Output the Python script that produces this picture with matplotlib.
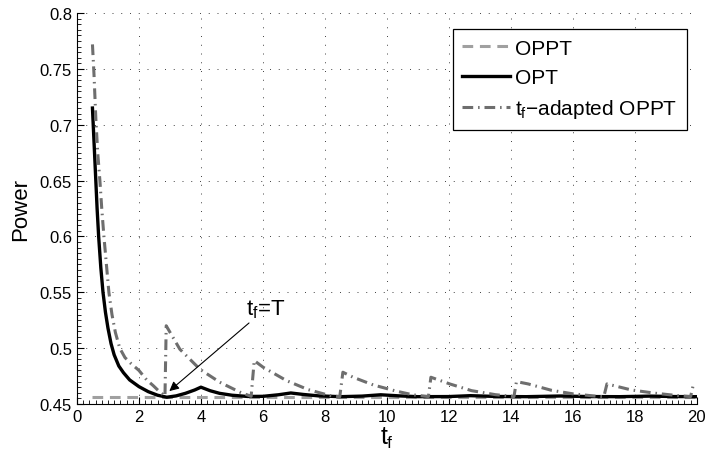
import numpy as np
import matplotlib
matplotlib.use('Agg')
import matplotlib.pyplot as plt
from matplotlib.ticker import MultipleLocator, AutoMinorLocator

plt.rcParams['font.family'] = 'Liberation Sans'
plt.rcParams['mathtext.fontset'] = 'custom'
plt.rcParams['mathtext.rm'] = 'Liberation Sans'
plt.rcParams['mathtext.it'] = 'Liberation Sans'

# OPPT: constant power
t_oppt = [0.5, 20.0]
p_oppt = [0.4562, 0.4562]

# OPT
t_opt = [0.5, 0.55, 0.6, 0.65, 0.7, 0.77, 0.84, 0.92, 1.0, 1.1, 1.2, 1.35, 1.5, 1.7,
         2.0, 2.3, 2.6, 2.9, 3.2, 3.5, 3.8, 4.0, 4.3, 4.6, 5.0, 5.5, 6.0, 6.5, 6.9,
         7.3, 7.8, 8.5, 9.2, 9.8, 10.4, 11.0, 12.0, 12.7, 13.5, 14.5, 15.6, 16.5,
         17.5, 18.5, 19.3, 20.0]
p_opt = [0.715, 0.685, 0.655, 0.625, 0.600, 0.572, 0.550, 0.532, 0.518, 0.504, 0.494,
         0.484, 0.478, 0.4715, 0.4655, 0.461, 0.4578, 0.456, 0.4572, 0.4595, 0.4625,
         0.465, 0.4618, 0.4595, 0.4578, 0.4567, 0.4568, 0.4582, 0.4598, 0.4585,
         0.4572, 0.4565, 0.4570, 0.4582, 0.4572, 0.4565, 0.4566, 0.4574, 0.4567,
         0.4565, 0.4571, 0.4566, 0.4565, 0.4570, 0.4566, 0.4565]

# tf-adapted OPPT
t_adp = [0.5, 0.55, 0.61, 0.67, 0.74, 0.8, 0.87, 0.95, 1.03, 1.13, 1.24, 1.38, 1.55,
         1.75, 2.0, 2.25, 2.46, 2.68, 2.84,
         2.88, 3.32, 3.97, 4.61, 5.26, 5.62,
         5.72, 6.01, 6.76, 7.46, 8.16, 8.48,
         8.58, 8.91, 9.56, 10.31, 10.85, 11.34,
         11.42, 12.03, 12.73, 13.5, 14.1,
         14.18, 14.56, 15.31, 16.01, 16.76, 17.0,
         17.1, 17.89, 18.65, 19.4, 19.8,
         19.88, 20.0]
p_adp = [0.772, 0.745, 0.705, 0.675, 0.650, 0.625, 0.600, 0.575, 0.550, 0.530, 0.514,
         0.500, 0.4915, 0.486, 0.480, 0.4715, 0.4664, 0.4605, 0.457,
         0.520, 0.499, 0.481, 0.4694, 0.4605, 0.4568,
         0.4888, 0.4828, 0.4709, 0.4628, 0.4575, 0.4565,
         0.4784, 0.4739, 0.4670, 0.4614, 0.4581, 0.4566,
         0.4739, 0.4679, 0.4619, 0.4583, 0.4566,
         0.4700, 0.4679, 0.4622, 0.4590, 0.4569, 0.4565,
         0.4679, 0.4625, 0.4596, 0.4574, 0.4566,
         0.4664, 0.4662]

fig = plt.figure(figsize=(7.06, 4.56), dpi=100)
ax = fig.add_axes([0.109, 0.112, 0.878, 0.857])

ax.plot(t_oppt, p_oppt, color='#a0a0a0', lw=2.2, dashes=(3.5, 2.2), label='OPPT')
ax.plot(t_opt, p_opt, color='black', lw=2.4, label='OPT')
ax.plot(t_adp, p_adp, color='#6e6e6e', lw=2.2, dashes=(3.5, 1.6, 0.5, 1.6),
        label=r'$t_f$$-$adapted OPPT')

ax.set_xlim(0, 20)
ax.set_ylim(0.45, 0.8)
ax.xaxis.set_major_locator(MultipleLocator(2))
ax.xaxis.set_minor_locator(AutoMinorLocator(10))
ax.set_yticks(np.arange(0.45, 0.801, 0.05))
ax.set_yticklabels(['0.45', '0.5', '0.55', '0.6', '0.65', '0.7', '0.75', '0.8'])
ax.yaxis.set_minor_locator(AutoMinorLocator(10))
ax.tick_params(which='major', direction='in', length=5, width=0.8, labelsize=12)
ax.tick_params(which='minor', direction='in', length=3, width=0.6)
ax.spines['top'].set_visible(False)
ax.spines['right'].set_visible(False)
ax.grid(True, which='major', color='0.25', lw=0.7, dashes=(1, 8))
ax.set_axisbelow(True)

ax.set_xlabel(r'$t_f$', fontsize=18, labelpad=1)
ax.set_ylabel('Power', fontsize=16, labelpad=6)

ax.annotate(r'$t_f$=T', xy=(2.98, 0.4615), xytext=(5.45, 0.530), fontsize=16,
            arrowprops=dict(arrowstyle='-|>', color='black', lw=0.8,
                            mutation_scale=14, shrinkA=0, shrinkB=0))

leg = ax.legend(loc='upper right', bbox_to_anchor=(0.984, 0.959), fontsize=15,
                handlelength=2.3, handletextpad=0.25, labelspacing=0.5,
                borderpad=0.45, borderaxespad=0, fancybox=False, framealpha=1,
                edgecolor='black')
leg.get_frame().set_linewidth(0.9)

fig.savefig('out.png', dpi=100)
